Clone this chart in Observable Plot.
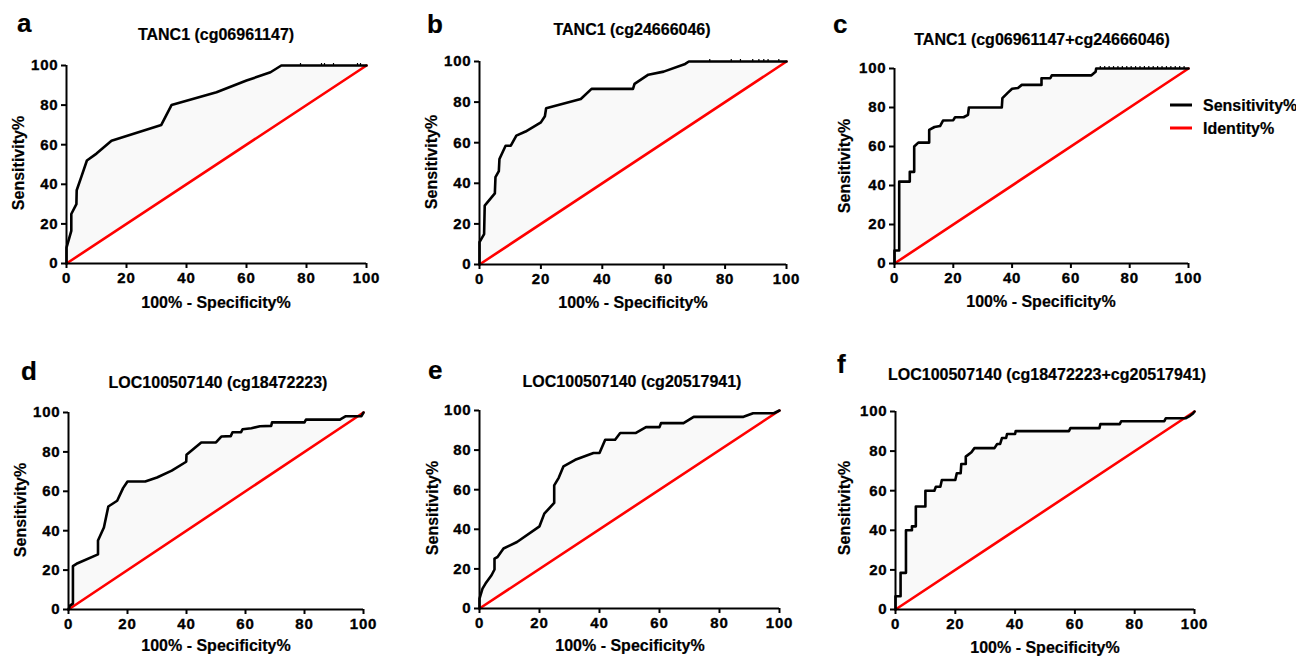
<!DOCTYPE html>
<html><head><meta charset="utf-8">
<script src="https://cdn.jsdelivr.net/npm/d3@7"></script>
<script src="https://cdn.jsdelivr.net/npm/@observablehq/plot@0.6"></script>
<style>
body{margin:0;background:#fff;}
#root{position:relative;width:1296px;height:656px;overflow:hidden;background:#fff;}
.panel{position:absolute;}
.panel text{letter-spacing:0.8px;stroke:#000;stroke-width:0.35px;}
#overlay{position:absolute;left:0;top:0;pointer-events:none;}
#overlay text{stroke:#000;stroke-width:0.2px;}
</style>
</head><body>
<div id="root"></div>
<script>
// ---------- data ----------
const xTicks = [0, 20, 40, 60, 80, 100];
const yTicks = [0, 20, 40, 60, 80, 100];
const diagX = [0, 100];
const diagY = [0, 100];

const titles = ["TANC1 (cg06961147)", "TANC1 (cg24666046)", "TANC1 (cg06961147+cg24666046)",
  "LOC100507140 (cg18472223)", "LOC100507140 (cg20517941)", "LOC100507140 (cg18472223+cg20517941)"];
const letters = ["a", "b", "c", "d", "e", "f"];
const xLabel = "100% - Specificity%";
const yLabel = "Sensitivity%";
const legendLabels = ["Sensitivity%", "Identity%"];

const aX = [0, 0, 1.6, 1.6, 3.3, 3.4, 5, 6.8, 10, 15, 31.6, 35, 50, 60, 68, 71.6, 100];
const aY = [0, 8, 16.5, 25, 30, 37, 44, 52, 55.5, 62, 70, 80, 86.5, 92.4, 96.6, 100, 100];
const aTop = [78, 85, 86, 89, 97, 98];

const bX = [0, 0, 1.5, 1.7, 5, 5.2, 6.3, 6.5, 8.5, 10.2, 12, 15, 20, 21.3, 21.7, 33, 36.5, 50, 50.5, 55, 60, 67, 68.2, 100];
const bY = [0, 11, 15, 29, 35, 43, 46, 52, 58.5, 58.5, 63.5, 65.5, 70, 73, 77, 81.5, 86.5, 86.5, 89, 93.5, 95, 98.8, 100, 100];
const bTop = [75, 82, 85, 89, 91, 92.6, 94, 97.5];

const cX = [0, 0, 1.6, 1.6, 5.2, 5.2, 6.7, 6.7, 8.1, 11.8, 11.8, 13.6, 15.5, 16.5, 20, 20.6, 23.5, 25, 25.3, 36.5, 36.7, 38.5, 40, 42, 43.3, 50, 50, 53, 53.5, 67, 68.4, 68.6, 100];
const cY = [0, 6.7, 6.7, 42, 42, 47, 47, 60, 62, 62, 68.5, 70, 70.5, 73.3, 73.5, 75, 75, 76.2, 80, 80, 84.8, 87.5, 89.6, 90, 91.6, 91.6, 95, 95, 96.5, 96.5, 98.3, 100, 100];
const cTop = [70, 71.5, 73, 74.5, 76, 77.5, 79, 80.5, 82, 83.5, 85, 86.5, 88, 89.5, 91, 92.5, 94, 95.5, 97, 98.5];

const dX = [0, 0.5, 1.5, 1.5, 3.1, 10, 10, 12, 13.5, 16.5, 18.5, 20, 26, 30, 35, 39.9, 40, 45, 50, 51.8, 55, 55.6, 58.5, 59, 62, 64.9, 68.7, 69, 80, 80.5, 92, 94, 99.3, 100];
const dY = [0, 2, 3, 22, 23.5, 28, 35, 41.6, 52.3, 55.2, 61.6, 65, 65, 67, 70.5, 75, 78.5, 84.8, 84.8, 87.8, 88, 90, 90, 91.5, 92, 93, 93.2, 95, 95, 96.4, 96.4, 98.1, 98.1, 100];

const eX = [0, 0, 1, 2, 4, 5, 5, 6, 8, 12.5, 20, 21.6, 24.9, 24.9, 26.4, 28, 31.9, 38, 40, 41.9, 45.2, 46.9, 52, 55.5, 60, 60.5, 68, 71.4, 88, 91.2, 98.1, 100];
const eY = [0, 5, 10, 12.6, 16.8, 19.7, 25.2, 26, 30.3, 33.6, 41.5, 47.9, 53.3, 62.2, 66, 71.8, 75.1, 78.5, 78.5, 85.2, 85.2, 88.6, 88.6, 91.6, 91.6, 93.6, 93.6, 96.8, 96.8, 98.6, 98.6, 100];

const fX = [0, 0, 1.7, 1.7, 3.5, 3.5, 5.5, 5.5, 6.8, 6.8, 10, 10, 13, 13.5, 15, 15.5, 20, 20.5, 21.8, 22, 23.5, 23.5, 25.4, 26.4, 33.1, 34, 35, 35.6, 37, 37.3, 40, 40.2, 58, 58.5, 68.2, 68.5, 75, 75.5, 89.9, 90.4, 97, 98.5, 99.5, 100];
const fY = [0, 6.7, 6.7, 18.5, 18.5, 40, 40, 42, 42, 52, 52, 60, 60, 62, 62, 65.4, 65.4, 68.8, 68.8, 73.5, 73.5, 77.2, 79.4, 81.5, 81.5, 83.6, 83.6, 86.6, 86.6, 88.6, 88.6, 90.1, 90.1, 91.6, 91.6, 93.6, 93.6, 95.1, 95.1, 96.6, 96.6, 97.8, 99, 100];

const curvesX = [aX, bX, cX, dX, eX, fX];
const curvesY = [aY, bY, cY, dY, eY, fY];
const topTicks = [aTop, bTop, cTop, [], [], []];

// ---------- layout (pixel frames of each plot area) ----------
const frames = [
  {x0: 66, x1: 366, top: 65, bot: 263},
  {x0: 479, x1: 786, top: 61, bot: 264},
  {x0: 894, x1: 1188, top: 68, bot: 263},
  {x0: 68, x1: 363, top: 412, bot: 609},
  {x0: 479, x1: 779, top: 410, bot: 608},
  {x0: 895, x1: 1194, top: 411, bot: 609}
];
const titlePos = [[216, 40], [632, 35], [1042, 45], [218, 388], [632, 387], [1047, 380]];
const letterPos = [[17, 32], [427, 33], [833, 33], [21, 380], [428, 379], [837, 373]];
const xLabelPos = [[216, 308], [633, 308], [1041, 307], [216, 651], [630, 651], [1045, 653]];
const yLabelPos = [[24, 163], [437, 162], [850, 166], [26, 510], [438, 508], [850, 508]];

const FONT = "'Liberation Sans', Arial, Helvetica, sans-serif";
const root = document.getElementById("root");
const ML = 50, MR = 20, MT = 15, MB = 30;

frames.forEach((f, i) => {
  const data = curvesX[i].map((x, j) => ({x, y: curvesY[i][j]}));
  const diag = diagX.map((x, j) => ({x, y: diagY[j]}));
  const w = (f.x1 - f.x0) + ML + MR;
  const h = (f.bot - f.top) + MT + MB;
  const chart = Plot.plot({
    width: w, height: h,
    marginLeft: ML, marginRight: MR, marginTop: MT, marginBottom: MB,
    x: {domain: [0, 100]},
    y: {domain: [0, 100]},
    style: {fontFamily: FONT, fontWeight: "bold", fontSize: "15px", color: "#000", background: "transparent", overflow: "visible"},
    marks: [
      Plot.areaY(data, {x: "x", y1: "x", y2: "y", fill: "#f9f9f9", curve: "linear"}),
      Plot.line(diag, {x: "x", y: "y", stroke: "#ff0000", strokeWidth: 2.6}),
      Plot.ruleX(topTicks[i], {x: d => d, y1: 100, y2: 101, stroke: "#000", strokeWidth: 1.2}),
      Plot.line(data, {x: "x", y: "y", stroke: "#000", strokeWidth: 2.6, strokeLinejoin: "round"}),
      Plot.ruleX([0], {stroke: "#000", strokeWidth: 2}),
      Plot.ruleY([0], {stroke: "#000", strokeWidth: 2}),
      Plot.axisX({ticks: xTicks, tickSize: 5, tickPadding: 4, label: null, strokeWidth: 2, fill: "#000", fontSize: 15, fontWeight: "bold"}),
      Plot.axisY({ticks: yTicks, tickSize: 5, tickPadding: 3, label: null, strokeWidth: 2, fill: "#000", fontSize: 15, fontWeight: "bold"})
    ]
  });
  chart.classList.add("panel");
  chart.style.left = (f.x0 - ML) + "px";
  chart.style.top = (f.top - MT) + "px";
  root.appendChild(chart);
});

// ---------- text overlay ----------
const svg = d3.select(root).append("svg").attr("id", "overlay")
  .attr("width", 1296).attr("height", 656)
  .style("font-family", FONT).style("font-weight", "bold");

titles.forEach((t, i) => {
  svg.append("text").attr("x", titlePos[i][0]).attr("y", titlePos[i][1])
    .attr("text-anchor", "middle").attr("font-size", 16).text(t);
  svg.append("text").attr("x", letterPos[i][0]).attr("y", letterPos[i][1])
    .attr("font-size", 26).text(letters[i]);
  svg.append("text").attr("x", xLabelPos[i][0]).attr("y", xLabelPos[i][1])
    .attr("text-anchor", "middle").attr("font-size", 16).text(xLabel);
  svg.append("text").attr("transform", `translate(${yLabelPos[i][0]},${yLabelPos[i][1]}) rotate(-90)`)
    .attr("text-anchor", "middle").attr("font-size", 16).text(yLabel);
});

// legend
const legendColors = ["#000", "#ff0000"];
legendLabels.forEach((l, i) => {
  const y = 105 + i * 23;
  svg.append("line").attr("x1", 1170).attr("x2", 1192).attr("y1", y).attr("y2", y)
    .attr("stroke", legendColors[i]).attr("stroke-width", 3);
  svg.append("text").attr("x", 1203).attr("y", y + 6).attr("font-size", 16).text(l);
});
</script>
</body></html>
